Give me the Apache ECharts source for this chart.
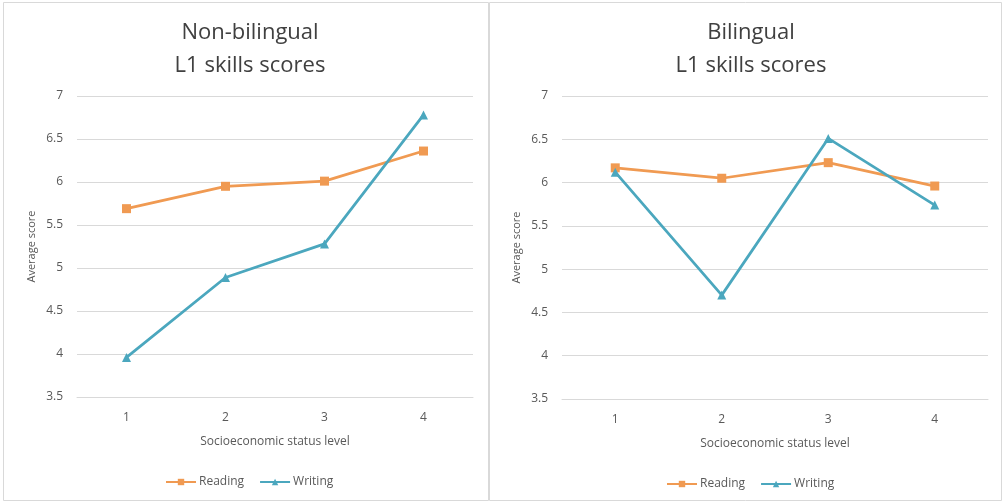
<!DOCTYPE html>
<html>
<head>
<meta charset="utf-8">
<script src="https://cdn.jsdelivr.net/npm/echarts@6/dist/echarts.min.js"></script>
<style>
  html, body { margin: 0; padding: 0; background: #ffffff; }
  #chart { width: 1002px; height: 503px; }
</style>
</head>
<body>
<div id="chart"></div>
<script>
// Socioeconomic status levels on the x axis
const levels = ['1', '2', '3', '4'];
const seriesNames = ['Reading', 'Writing'];

// Non-bilingual group: average L1 scores per level
const nonBilingualReading = [5.69, 5.95, 6.01, 6.36];
const nonBilingualWriting = [3.96, 4.89, 5.28, 6.78];

// Bilingual group: average L1 scores per level
const bilingualReading = [6.17, 6.05, 6.23, 5.96];
const bilingualWriting = [6.12, 4.70, 6.51, 5.74];

const panelTitles = ['Non-bilingual\nL1 skills scores', 'Bilingual\nL1 skills scores'];

const FONT = '"Open Sans", "Liberation Sans", sans-serif';
const READING_COLOR = '#F09A52';
const WRITING_COLOR = '#4BA7BE';
const GRID_COLOR = '#d9d9d9';
const TEXT_COLOR = '#595959';

const chart = echarts.init(document.getElementById('chart'), null, { renderer: 'canvas' });

function xAxisFor(gridIndex) {
  return {
    type: 'category',
    gridIndex: gridIndex,
    data: levels,
    boundaryGap: true,
    name: 'Socioeconomic status level',
    nameLocation: 'middle',
    nameGap: 39,
    nameTextStyle: { color: TEXT_COLOR, fontSize: 12, fontFamily: FONT },
    axisLine: { show: true, lineStyle: { color: GRID_COLOR, width: 1 } },
    axisTick: { show: false },
    axisLabel: { color: TEXT_COLOR, fontSize: 12, fontFamily: FONT, margin: 15 }
  };
}

function yAxisFor(gridIndex) {
  return {
    type: 'value',
    gridIndex: gridIndex,
    min: 3.5,
    max: 7,
    interval: 0.5,
    name: 'Average score',
    nameLocation: 'middle',
    nameGap: 40,
    nameTextStyle: { color: TEXT_COLOR, fontSize: 11, fontFamily: FONT },
    axisLine: { show: false },
    axisTick: { show: false },
    axisLabel: { color: TEXT_COLOR, fontSize: 12, fontFamily: FONT, margin: 14 },
    splitLine: { show: true, lineStyle: { color: GRID_COLOR, width: 1 } }
  };
}

function lineSeries(name, data, idx, color, symbol) {
  return {
    name: name,
    type: 'line',
    xAxisIndex: idx,
    yAxisIndex: idx,
    data: data,
    symbol: symbol,
    symbolSize: 9,
    showSymbol: true,
    lineStyle: { color: color, width: 2.75 },
    itemStyle: { color: color },
    emphasis: { disabled: true },
    animation: false
  };
}

function legendFor(left, top) {
  return {
    data: seriesNames,
    left: left,
    top: top,
    itemWidth: 30,
    itemHeight: 8,
    itemGap: 15,
    textStyle: { color: TEXT_COLOR, fontSize: 12, fontFamily: FONT, padding: [0, 0, 0, -2] }
  };
}

const option = {
  backgroundColor: '#ffffff',
  animation: false,
  graphic: [
    { type: 'rect', shape: { x: 3.5, y: 2.5, width: 485, height: 498 },
      style: { fill: 'none', stroke: '#d9d9d9', lineWidth: 1 }, silent: true },
    { type: 'rect', shape: { x: 489.5, y: 2.5, width: 512, height: 498 },
      style: { fill: 'none', stroke: '#d9d9d9', lineWidth: 1 }, silent: true }
  ],
  title: [
    { text: panelTitles[0], left: 245, top: 11, textAlign: 'center',
      textStyle: { color: '#404040', fontSize: 22, fontWeight: 'normal', fontFamily: FONT, lineHeight: 33 } },
    { text: panelTitles[1], left: 746, top: 11, textAlign: 'center',
      textStyle: { color: '#404040', fontSize: 22, fontWeight: 'normal', fontFamily: FONT, lineHeight: 33 } }
  ],
  legend: [legendFor(160, 471), legendFor(661, 473)],
  grid: [
    { left: 77, top: 96, width: 396, height: 301, containLabel: false },
    { left: 562, top: 96, width: 426, height: 303, containLabel: false }
  ],
  xAxis: [xAxisFor(0), xAxisFor(1)],
  yAxis: [yAxisFor(0), yAxisFor(1)],
  series: [
    lineSeries(seriesNames[0], nonBilingualReading, 0, READING_COLOR, 'rect'),
    lineSeries(seriesNames[1], nonBilingualWriting, 0, WRITING_COLOR, 'triangle'),
    lineSeries(seriesNames[0], bilingualReading, 1, READING_COLOR, 'rect'),
    lineSeries(seriesNames[1], bilingualWriting, 1, WRITING_COLOR, 'triangle')
  ]
};

chart.setOption(option);
</script>
</body>
</html>
